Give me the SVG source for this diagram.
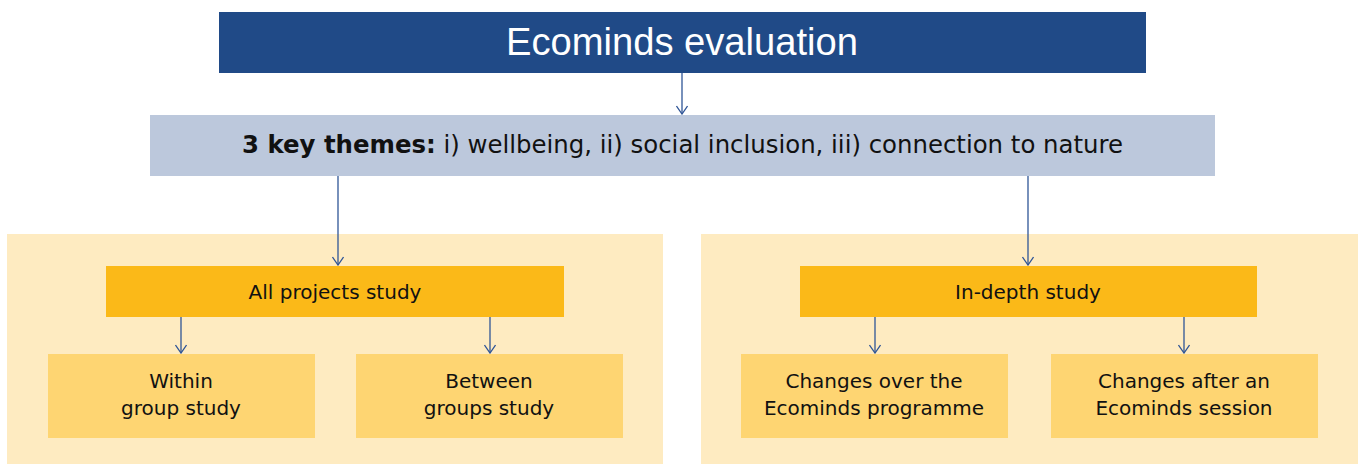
<svg xmlns="http://www.w3.org/2000/svg" width="1358" height="464" viewBox="0 0 1358 464">
<style>
.t{font-family:"DejaVu Sans","Liberation Sans",sans-serif;fill:#111;text-anchor:middle}
.m{font-size:20px}
.c{stroke:#2F5597;stroke-width:1.3;fill:none}
</style>
<defs>
<marker id="ah" markerWidth="10" markerHeight="12" refX="9" refY="6" orient="auto" markerUnits="userSpaceOnUse" viewBox="0 0 10 12">
<polyline points="1,0.5 9,6 1,11.5" fill="none" stroke="#2F5597" stroke-width="1.3"/>
</marker>
</defs>
<rect width="1358" height="464" fill="#fff"/>
<g id="panel-left"><rect x="7" y="234" width="656" height="230" fill="#FEEBC1"/></g>
<g id="panel-right"><rect x="701" y="234" width="657" height="230" fill="#FEEBC1"/></g>
<g id="title"><rect x="219" y="12" width="927" height="61" fill="#204A87"/>
<text x="682" y="55" style="font-family:'Liberation Sans',sans-serif;fill:#fff;font-size:38px;text-anchor:middle" textLength="352" lengthAdjust="spacingAndGlyphs">Ecominds evaluation</text></g>
<g id="themes"><rect x="150" y="115" width="1065" height="61" fill="#BCC8DC"/>
<text x="682.5" y="153" class="t" style="font-size:24px" textLength="881" lengthAdjust="spacingAndGlyphs"><tspan font-weight="bold">3 key themes:</tspan> i) wellbeing, ii) social inclusion, iii) connection to nature</text></g>
<g id="all-projects"><rect x="106" y="266" width="458" height="51" fill="#FBB918"/>
<text x="335" y="299" class="t m">All projects study</text></g>
<g id="in-depth"><rect x="800" y="266" width="457" height="51" fill="#FBB918"/>
<text x="1028" y="299" class="t m">In-depth study</text></g>
<g id="within"><rect x="48" y="354" width="267" height="84" fill="#FED572"/>
<text x="181" y="388" class="t m">Within</text><text x="181" y="415" class="t m">group study</text></g>
<g id="between"><rect x="356" y="354" width="267" height="84" fill="#FED572"/>
<text x="489" y="388" class="t m">Between</text><text x="489" y="415" class="t m">groups study</text></g>
<g id="over"><rect x="741" y="354" width="267" height="84" fill="#FED572"/>
<text x="874" y="388" class="t m">Changes over the</text><text x="874" y="415" class="t m">Ecominds programme</text></g>
<g id="after"><rect x="1051" y="354" width="267" height="84" fill="#FED572"/>
<text x="1184" y="388" class="t m">Changes after an</text><text x="1184" y="415" class="t m">Ecominds session</text></g>
<g id="connectors">
<line class="c" x1="682" y1="73" x2="682" y2="114" marker-end="url(#ah)"/>
<line class="c" x1="338" y1="176" x2="338" y2="265" marker-end="url(#ah)"/>
<line class="c" x1="1028" y1="176" x2="1028" y2="265" marker-end="url(#ah)"/>
<line class="c" x1="181" y1="317" x2="181" y2="353" marker-end="url(#ah)"/>
<line class="c" x1="490" y1="317" x2="490" y2="353" marker-end="url(#ah)"/>
<line class="c" x1="875" y1="317" x2="875" y2="353" marker-end="url(#ah)"/>
<line class="c" x1="1184" y1="317" x2="1184" y2="353" marker-end="url(#ah)"/>
</g>
</svg>
